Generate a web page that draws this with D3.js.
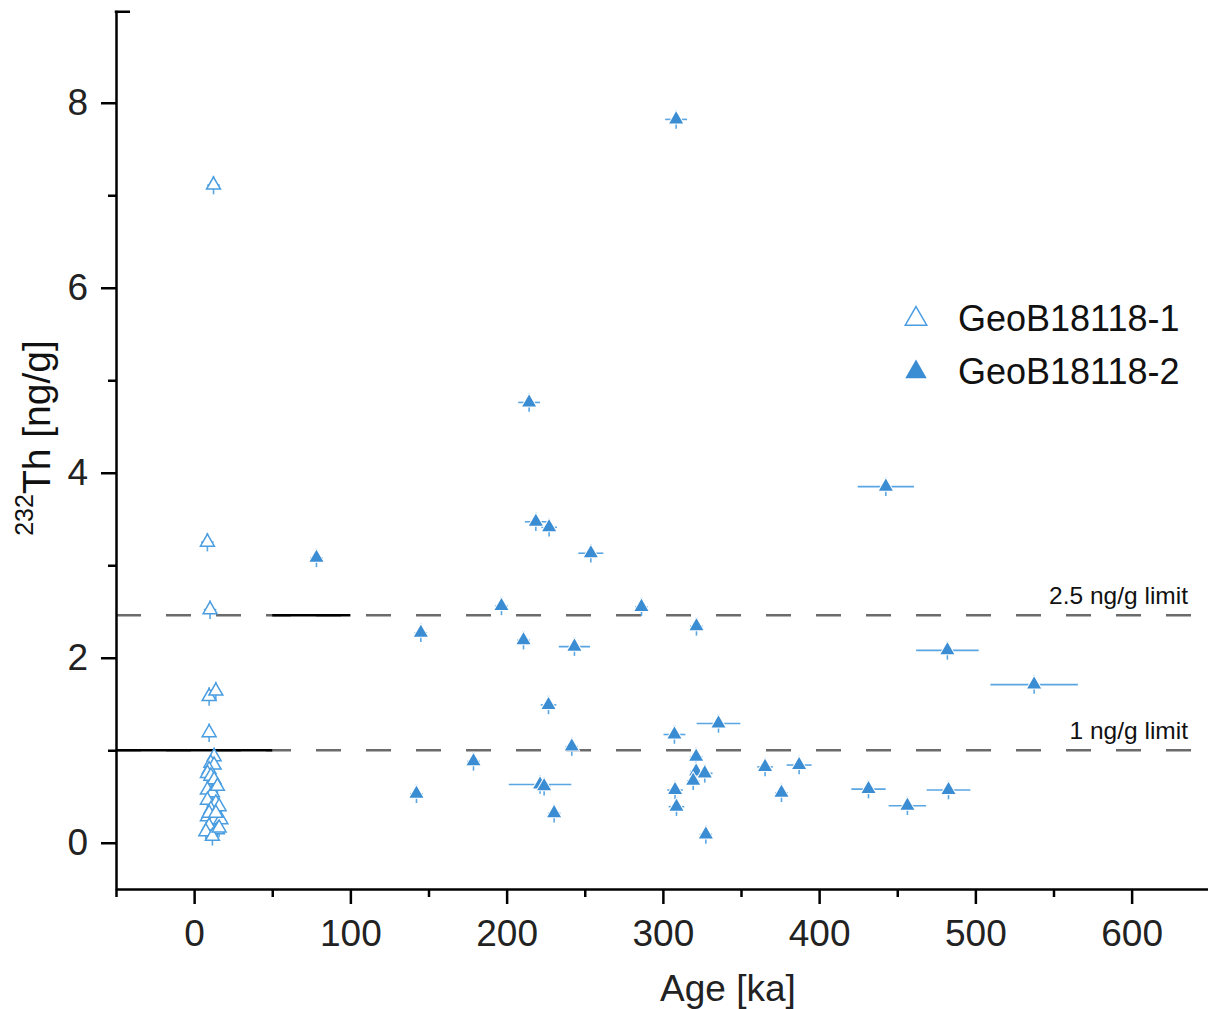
<!DOCTYPE html>
<html>
<head>
<meta charset="utf-8">
<script src="https://cdn.jsdelivr.net/npm/d3@7"></script>
<style>
  body { margin: 0; background: #fff; }
  svg { display: block; font-family: "Liberation Sans", Arial, sans-serif; }
  .axis text { font-size: 37px; fill: #222; }
  .axis path, .axis line { stroke: #000; stroke-width: 2.5; }
</style>
</head>
<body>
<svg id="chart" width="1208" height="1009"></svg>
<script>
/* Data
   ========================================================================== */
// GeoB18118-1 (open triangles)
var ageA  = [12.4, 8.5, 10.2, 9.6, 13.9, 9.6, 12.8, 10.7, 12.8, 9.6, 8.5, 10.7, 12.8, 8.5, 11.7,
             14.9, 8.5, 13.9, 10.7, 16.0, 8.5, 12.8, 17.1, 9.6, 14.9, 7.5, 11.7, 16.0, 9.6, 13.9];
var thA   = [7.11, 3.25, 2.52, 1.58, 1.64, 1.19, 0.93, 0.86, 0.84, 0.79, 0.75, 0.72, 0.68, 0.57, 0.54,
             0.61, 0.46, 0.43, 0.36, 0.39, 0.28, 0.25, 0.25, 0.18, 0.14, 0.12, 0.07, 0.16, 0.32, 0.32];
var ageErrA = [4, 4, 4, 3, 3, 3, 3, 3, 3, 3, 3, 3, 3, 3, 3,
               3, 3, 3, 3, 3, 3, 3, 3, 3, 3, 3, 3, 3, 3, 3];

// GeoB18118-2 (filled triangles)
var ageB  = [78.3, 308.5, 214.4, 218.7, 227.2, 253.9, 442.7, 196.7, 286.3, 145.1, 321.5, 210.8, 243.4,
             482.1, 537.6, 226.8, 335.6, 307.4, 241.7, 178.8, 321.3, 142.3, 365.4, 387.2, 321.3, 326.8,
             319.4, 307.8, 308.7, 221.4, 224.0, 230.4, 327.5, 375.9, 431.6, 456.5, 482.8];
var thB   = [3.08, 7.82, 4.76, 3.47, 3.41, 3.13, 3.85, 2.56, 2.55, 2.27, 2.34, 2.19, 2.12,
             2.08, 1.71, 1.49, 1.29, 1.17, 1.04, 0.88, 0.93, 0.53, 0.82, 0.84, 0.77, 0.75,
             0.67, 0.57, 0.39, 0.63, 0.61, 0.32, 0.09, 0.54, 0.58, 0.40, 0.57];
var ageErrB = [4, 7, 7, 7, 5, 8, 18, 4, 4, 4, 4, 4, 10,
               20, 28, 5, 14, 7, 4, 4, 4, 4, 5, 8, 4, 5,
               4, 5, 5, 20, 4, 4, 4, 4, 11, 12, 14];
var thErr = 0.1;   // vertical error bars look the same for every point

var seriesNames = ["GeoB18118-1", "GeoB18118-2"];
var limits = [2.46, 1.0];
var limitLabels = ["2.5 ng/g limit", "1 ng/g limit"];
var xMajor = [0, 100, 200, 300, 400, 500, 600];
var xMinor = [-50, 50, 150, 250, 350, 450, 550];
var yMajor = [0, 2, 4, 6, 8];
var yMinor = [1, 3, 5, 7];

/* Scales
   ========================================================================== */
var svg = d3.select("#chart");
var x = d3.scaleLinear().domain([-50, 650]).range([116, 1209.75]);
var y = d3.scaleLinear().domain([-0.5, 9]).range([889, 10.25]);

var blue = "#3b8dd3", blueLight = "#5aa6e3";

// Reference lines: dashed grey across, with short solid black pieces
svg.selectAll(".limit")
    .data(limits)
    .enter().append("line")
    .attr("x1", x(-50)).attr("x2", x(650))
    .attr("y1", function(d) { return y(d); })
    .attr("y2", function(d) { return y(d); })
    .attr("stroke", "#6b6b6b").attr("stroke-width", 2.5)
    .attr("stroke-dasharray", "25,25");

svg.append("line")
    .attr("x1", x(50)).attr("x2", x(100))
    .attr("y1", y(limits[0])).attr("y2", y(limits[0]))
    .attr("stroke", "#000").attr("stroke-width", 2.5);
svg.append("line")
    .attr("x1", x(-50)).attr("x2", x(50))
    .attr("y1", y(limits[1])).attr("y2", y(limits[1]))
    .attr("stroke", "#000").attr("stroke-width", 2.5);

svg.selectAll(".limit-label")
    .data(limitLabels)
    .enter().append("text")
    .attr("x", 1188)
    .attr("y", function(d, i) { return y(limits[i]) - 11; })
    .attr("text-anchor", "end")
    .style("font-size", "24.5px").style("fill", "#111")
    .text(function(d) { return d; });

/* Points with error bars
   ========================================================================== */
var tri = d3.symbol().type(d3.symbolTriangle).size(84);

function drawSeries(ages, ths, errs, filled) {
    var data = ages.map(function(a, i) { return { age: a, th: ths[i], err: errs[i] }; });
    var g = svg.append("g");
    g.selectAll(".ex").data(data).enter().append("line")
        .attr("x1", function(d) { return x(d.age - d.err); })
        .attr("x2", function(d) { return x(d.age + d.err); })
        .attr("y1", function(d) { return y(d.th); })
        .attr("y2", function(d) { return y(d.th); })
        .attr("stroke", blueLight).attr("stroke-width", 1.6);
    g.selectAll(".ey").data(data).enter().append("line")
        .attr("x1", function(d) { return x(d.age); })
        .attr("x2", function(d) { return x(d.age); })
        .attr("y1", function(d) { return y(d.th - thErr); })
        .attr("y2", function(d) { return y(d.th + thErr); })
        .attr("stroke", blueLight).attr("stroke-width", 1.6);
    g.selectAll(".pt").data(data).enter().append("path")
        .attr("d", tri)
        .attr("transform", function(d) { return "translate(" + x(d.age) + "," + y(d.th) + ")"; })
        .attr("fill", filled ? blue : "#fff")
        .attr("stroke", filled ? "#fff" : "#4a9de0")
        .attr("stroke-width", filled ? 2 : 1.5)
        .attr("paint-order", filled ? "stroke" : "normal");
}
drawSeries(ageA, thA, ageErrA, false);
drawSeries(ageB, thB, ageErrB, true);

/* Axes
   ========================================================================== */
svg.append("g").attr("class", "axis")
    .attr("transform", "translate(0," + y(-0.5) + ")")
    .call(d3.axisBottom(x).tickValues(xMajor).tickSize(15).tickSizeOuter(0).tickPadding(16));
svg.append("g").attr("class", "axis")
    .attr("transform", "translate(0," + y(-0.5) + ")")
    .call(d3.axisBottom(x).tickValues(xMinor).tickSize(8).tickFormat(""))
    .select(".domain").remove();

svg.append("g").attr("class", "axis")
    .attr("transform", "translate(" + x(-50) + ",0)")
    .call(d3.axisLeft(y).tickValues(yMajor).tickSize(15).tickSizeOuter(0).tickPadding(13));
svg.append("g").attr("class", "axis")
    .attr("transform", "translate(" + x(-50) + ",0)")
    .call(d3.axisLeft(y).tickValues(yMinor).tickSize(8).tickFormat(""))
    .select(".domain").remove();

// small stub at the top of the y axis
svg.append("line")
    .attr("x1", x(-50) - 1.25).attr("x2", x(-50) + 14)
    .attr("y1", y(9) + 1.5).attr("y2", y(9) + 1.5)
    .attr("stroke", "#000").attr("stroke-width", 2.5);

// Axis titles
svg.append("text")
    .attr("x", 728).attr("y", 1001)
    .attr("text-anchor", "middle")
    .style("font-size", "37px").style("fill", "#222")
    .text("Age [ka]");

var yt = svg.append("text")
    .attr("transform", "translate(44,438) rotate(-90)")
    .attr("text-anchor", "middle")
    .style("font-size", "39px").style("fill", "#111");
yt.append("tspan").attr("dy", "-0.45em").style("font-size", "25px").text("232");
yt.append("tspan").attr("dy", "0.45em").text("Th [ng/g]");

/* Legend
   ========================================================================== */
var legTri = d3.symbol().type(d3.symbolTriangle).size(200);
var legend = svg.selectAll(".legend")
    .data(seriesNames)
    .enter().append("g")
    .attr("transform", function(d, i) { return "translate(916," + (319 + i * 53) + ")"; });
legend.append("path")
    .attr("d", legTri)
    .attr("fill", function(d, i) { return i ? blue : "#fff"; })
    .attr("stroke", function(d, i) { return i ? "none" : "#4a9de0"; })
    .attr("stroke-width", 1.5);
legend.append("text")
    .attr("x", 42).attr("y", 0).attr("dy", "0.34em")
    .style("font-size", "36px").style("fill", "#111")
    .text(function(d) { return d; });
</script>
</body>
</html>
